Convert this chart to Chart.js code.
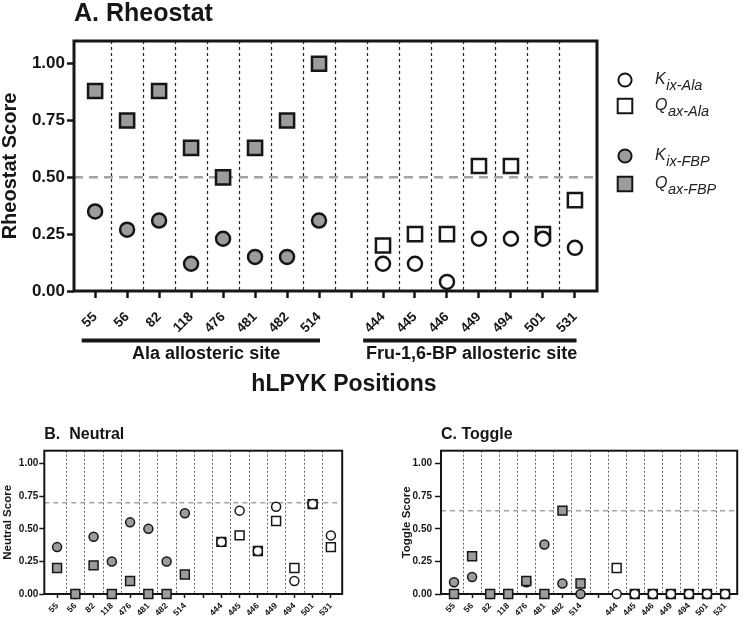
<!DOCTYPE html>
<html lang="en">
<head>
<meta charset="UTF-8">
<title>hLPYK position scores</title>
<script src="https://cdn.jsdelivr.net/npm/chart.js@4"></script>
<style>
    body { margin: 0; background: #ffffff; overflow: hidden; }
    .panel { position: absolute; }
    #panelA { left: 0; top: 0; width: 745px; height: 400px; }
    #panelB { left: 0; top: 420px; width: 350px; height: 199px; }
    #panelC { left: 398px; top: 420px; width: 347px; height: 199px; }
</style>
</head>
<body>
<div class="panel" id="panelA"><canvas id="chartA"></canvas></div>
<div class="panel" id="panelB"><canvas id="chartB"></canvas></div>
<div class="panel" id="panelC"><canvas id="chartC"></canvas></div>
<script>
// positions along the x axis (empty slot separates the two sites)
const positions = ['55', '56', '82', '118', '476', '481', '482', '514', '', '444', '445', '446', '449', '494', '501', '531'];
const yTicks = [0, 0.25, 0.5, 0.75, 1.0];

// A. Rheostat
const rheoKixAla = [null, null, null, null, null, null, null, null, null, 0.12, 0.12, 0.04, 0.23, 0.23, 0.23, 0.19];
const rheoQaxAla = [null, null, null, null, null, null, null, null, null, 0.20, 0.25, 0.25, 0.55, 0.55, 0.25, 0.40];
const rheoKixFbp = [0.35, 0.27, 0.31, 0.12, 0.23, 0.15, 0.15, 0.31, null, null, null, null, null, null, null, null];
const rheoQaxFbp = [0.88, 0.75, 0.88, 0.63, 0.50, 0.63, 0.75, 1.00, null, null, null, null, null, null, null, null];
const rheoCutoff = 0.5;

// B. Neutral
const neutKixAla = [null, null, null, null, null, null, null, null, null, 0.40, 0.64, 0.33, 0.67, 0.10, 0.69, 0.45];
const neutQaxAla = [null, null, null, null, null, null, null, null, null, 0.40, 0.45, 0.33, 0.56, 0.20, 0.69, 0.36];
const neutKixFbp = [0.36, 0, 0.44, 0.25, 0.55, 0.50, 0.25, 0.62, null, null, null, null, null, null, null, null];
const neutQaxFbp = [0.20, 0, 0.22, 0, 0.10, 0, 0, 0.15, null, null, null, null, null, null, null, null];
const neutCutoff = 0.70;

// C. Toggle
const togKixAla = [null, null, null, null, null, null, null, null, null, 0, 0, 0, 0, 0, 0, 0];
const togQaxAla = [null, null, null, null, null, null, null, null, null, 0.20, 0, 0, 0, 0, 0, 0];
const togKixFbp = [0.09, 0.13, 0, 0, 0.09, 0.38, 0.08, 0, null, null, null, null, null, null, null, null];
const togQaxFbp = [0, 0.29, 0, 0, 0.10, 0, 0.64, 0.08, null, null, null, null, null, null, null, null];
const togCutoff = 0.64;

const siteGroups = [
    { label: 'Ala allosteric site', from: -0.42, to: 7.03, textAt: 3.47 },
    { label: 'Fru-1,6-BP allosteric site', from: 8.38, to: 15.05, textAt: 11.77 }
];

const GRAY = '#9c9c9c';
const INK = '#161616';
const FONT = "'Liberation Sans', Arial, Helvetica, sans-serif";
Chart.defaults.font.family = FONT;
Chart.defaults.color = INK;

function toPoints(arr) {
    return arr.map((v, i) => (v === null ? null : { x: i, y: v })).filter(p => p !== null);
}

function makeDatasets(kAla, qAla, kFbp, qFbp, sz) {
    const base = (label, data, style, fill) => ({
        label: label,
        data: toPoints(data),
        pointStyle: style,
        pointRadius: style === 'rect' ? sz.rect : sz.circle,
        pointHoverRadius: style === 'rect' ? sz.rect : sz.circle,
        pointBackgroundColor: fill,
        pointBorderColor: INK,
        pointBorderWidth: sz.border,
        pointHoverBorderWidth: sz.border,
        clip: false
    });
    // first dataset is drawn on top
    return [
        base('Qax-FBP', qFbp, 'rect', GRAY),
        base('Kix-Ala', kAla, 'circle', '#ffffff'),
        base('Qax-Ala', qAla, 'rect', '#ffffff'),
        base('Kix-FBP', kFbp, 'circle', GRAY)
    ];
}

function decorPlugin(d) {
    return {
        id: 'decor',
        beforeDatasetsDraw(chart) {
            const { ctx, chartArea: a } = chart;
            const x = chart.scales.x, y = chart.scales.y;
            ctx.save();
            // dotted separators between positions
            ctx.strokeStyle = d.divColor;
            ctx.lineWidth = d.divWidth;
            ctx.setLineDash(d.divDash);
            for (let i = 0; i < positions.length - 1; i++) {
                const px = Math.round(x.getPixelForValue(i + 0.5)) + 0.5;
                ctx.beginPath();
                ctx.moveTo(px, a.top);
                ctx.lineTo(px, a.bottom);
                ctx.stroke();
            }
            // cutoff line
            const py = y.getPixelForValue(d.cutoff);
            ctx.strokeStyle = '#a3a3a3';
            ctx.lineWidth = d.cutWidth;
            ctx.setLineDash(d.cutDash);
            ctx.beginPath();
            ctx.moveTo(a.left, py);
            ctx.lineTo(a.right, py);
            ctx.stroke();
            // frame
            ctx.setLineDash([]);
            ctx.strokeStyle = INK;
            ctx.lineWidth = d.frame;
            ctx.strokeRect(a.left, a.top, a.right - a.left, a.bottom - a.top);
            ctx.restore();
        }
    };
}

// brackets, axis caption and legend of the large panel
const extrasA = {
    id: 'extrasA',
    afterDraw(chart) {
        const { ctx, chartArea: a } = chart;
        const x = chart.scales.x;
        ctx.save();
        ctx.fillStyle = INK;
        ctx.strokeStyle = INK;
        siteGroups.forEach(g => {
            ctx.fillRect(x.getPixelForValue(g.from), 338.5, x.getPixelForValue(g.to) - x.getPixelForValue(g.from), 4);
            ctx.font = 'bold 18px ' + FONT;
            ctx.textAlign = 'center';
            ctx.textBaseline = 'alphabetic';
            ctx.fillText(g.label, x.getPixelForValue(g.textAt), 358.5);
        });
        ctx.font = 'bold 23px ' + FONT;
        ctx.fillText('hLPYK Positions', (a.left + a.right) / 2 + 8.5, 391);

        const rows = [
            { main: 'K', sub: 'ix-Ala', style: 'circle', fill: '#ffffff', dy: 39 },
            { main: 'Q', sub: 'ax-Ala', style: 'rect', fill: '#ffffff', dy: 65 },
            { main: 'K', sub: 'ix-FBP', style: 'circle', fill: GRAY, dy: 115 },
            { main: 'Q', sub: 'ax-FBP', style: 'rect', fill: GRAY, dy: 143 }
        ];
        ctx.textAlign = 'left';
        ctx.lineWidth = 2;
        rows.forEach(r => {
            const cy = a.top + r.dy;
            const cx = a.right + 28;
            ctx.fillStyle = r.fill;
            ctx.beginPath();
            if (r.style === 'circle') {
                ctx.arc(cx, cy, 6.6, 0, Math.PI * 2);
            } else {
                ctx.rect(cx - 7.3, cy - 7.3, 14.6, 14.6);
            }
            ctx.fill();
            ctx.stroke();
            ctx.fillStyle = '#222';
            const tx = a.right + 58;
            ctx.font = 'italic 16px ' + FONT;
            ctx.fillText(r.main, tx, cy + 3.5);
            const w = ctx.measureText(r.main).width;
            ctx.font = 'italic 14.5px ' + FONT;
            ctx.fillText(r.sub, tx + w + 0.5, cy + 9.5);
        });
        ctx.restore();
    }
};

function panelChart(id, p) {
    return new Chart(document.getElementById(id), {
        type: 'scatter',
        data: { datasets: makeDatasets(p.kAla, p.qAla, p.kFbp, p.qFbp, p.sizes) },
        options: {
            responsive: true,
            maintainAspectRatio: false,
            animation: false,
            events: [],
            layout: { padding: { left: 0, right: p.padRight, top: 0, bottom: 0 } },
            plugins: {
                legend: { display: false },
                tooltip: { enabled: false },
                title: {
                    display: true,
                    text: p.title,
                    align: 'start',
                    fullSize: false,
                    color: INK,
                    font: { size: p.titleSize, weight: 'bold', lineHeight: 1 },
                    padding: p.titlePad
                }
            },
            scales: {
                x: {
                    type: 'linear',
                    min: p.xMin,
                    max: p.xMax,
                    afterBuildTicks: s => { s.ticks = positions.map((_, i) => ({ value: i })); },
                    afterFit: s => { s.height = p.xHeight; },
                    border: { display: false },
                    grid: { drawOnChartArea: false, tickLength: p.xTickLen, tickWidth: p.tickWidth, tickColor: INK },
                    ticks: {
                        autoSkip: false,
                        minRotation: 45,
                        maxRotation: 45,
                        padding: p.xPad,
                        color: INK,
                        font: { size: p.xFont, weight: 'bold' },
                        callback: v => positions[Math.round(v)] || ''
                    }
                },
                y: {
                    min: 0,
                    max: 1.1,
                    afterBuildTicks: s => { s.ticks = yTicks.map(v => ({ value: v })); },
                    afterFit: s => { s.width = p.yWidth; },
                    border: { display: false },
                    grid: { drawOnChartArea: false, tickLength: p.yTickLen, tickWidth: p.tickWidth, tickColor: INK },
                    ticks: {
                        padding: p.yPad,
                        color: INK,
                        font: { size: p.yFont, weight: 'bold' },
                        callback: v => v.toFixed(2)
                    },
                    title: {
                        display: true,
                        text: p.yTitle,
                        color: INK,
                        font: { size: p.yTitleSize, weight: 'bold', lineHeight: 1 },
                        padding: { top: p.yTitlePad, bottom: 0 }
                    }
                }
            }
        },
        plugins: [decorPlugin(p.decor)].concat(p.extra || [])
    });
}

panelChart('chartA', {
    title: 'A. Rheostat', titleSize: 25, titlePad: { top: 1.5, bottom: 14.5 },
    yTitle: 'Rheostat Score', yTitleSize: 20, yTitlePad: 0,
    kAla: rheoKixAla, qAla: rheoQaxAla, kFbp: rheoKixFbp, qFbp: rheoQaxFbp,
    sizes: { circle: 7, rect: 10, border: 2.5 },
    xMin: -0.66, xMax: 15.69, xHeight: 109, xTickLen: 7, xPad: 11, xFont: 13.5,
    yWidth: 74, yTickLen: 7, yPad: 2, yFont: 17, tickWidth: 2.5,
    padRight: 148,
    decor: { divColor: '#222', divWidth: 1.2, divDash: [3, 3], cutoff: rheoCutoff, cutWidth: 2.5, cutDash: [9, 6], frame: 3 },
    extra: [extrasA]
});

panelChart('chartB', {
    title: 'B.  Neutral', titleSize: 16, titlePad: { top: 7, bottom: 7.7 },
    yTitle: 'Neutral Score', yTitleSize: 11.5, yTitlePad: 2.5,
    kAla: neutKixAla, qAla: neutQaxAla, kFbp: neutKixFbp, qFbp: neutQaxFbp,
    sizes: { circle: 4.5, rect: 6.3, border: 1.5 },
    xMin: -0.7, xMax: 15.62, xHeight: 25, xTickLen: 4, xPad: 3, xFont: 8.5,
    yWidth: 44.3, yTickLen: 5, yPad: 1, yFont: 10, tickWidth: 1.5,
    padRight: 6,
    decor: { divColor: '#666', divWidth: 1, divDash: [2, 2], cutoff: neutCutoff, cutWidth: 1.5, cutDash: [5, 4], frame: 2 }
});

panelChart('chartC', {
    title: 'C. Toggle', titleSize: 16, titlePad: { top: 7, bottom: 7.7 },
    yTitle: 'Toggle Score', yTitleSize: 11.5, yTitlePad: 2.75,
    kAla: togKixAla, qAla: togQaxAla, kFbp: togKixFbp, qFbp: togQaxFbp,
    sizes: { circle: 4.5, rect: 6.3, border: 1.5 },
    xMin: -0.72, xMax: 15.67, xHeight: 25, xTickLen: 4, xPad: 3, xFont: 8.5,
    yWidth: 43, yTickLen: 6, yPad: 3, yFont: 10, tickWidth: 1.5,
    padRight: 2.7,
    decor: { divColor: '#666', divWidth: 1, divDash: [2, 2], cutoff: togCutoff, cutWidth: 1.5, cutDash: [5, 4], frame: 2 }
});
</script>
</body>
</html>
